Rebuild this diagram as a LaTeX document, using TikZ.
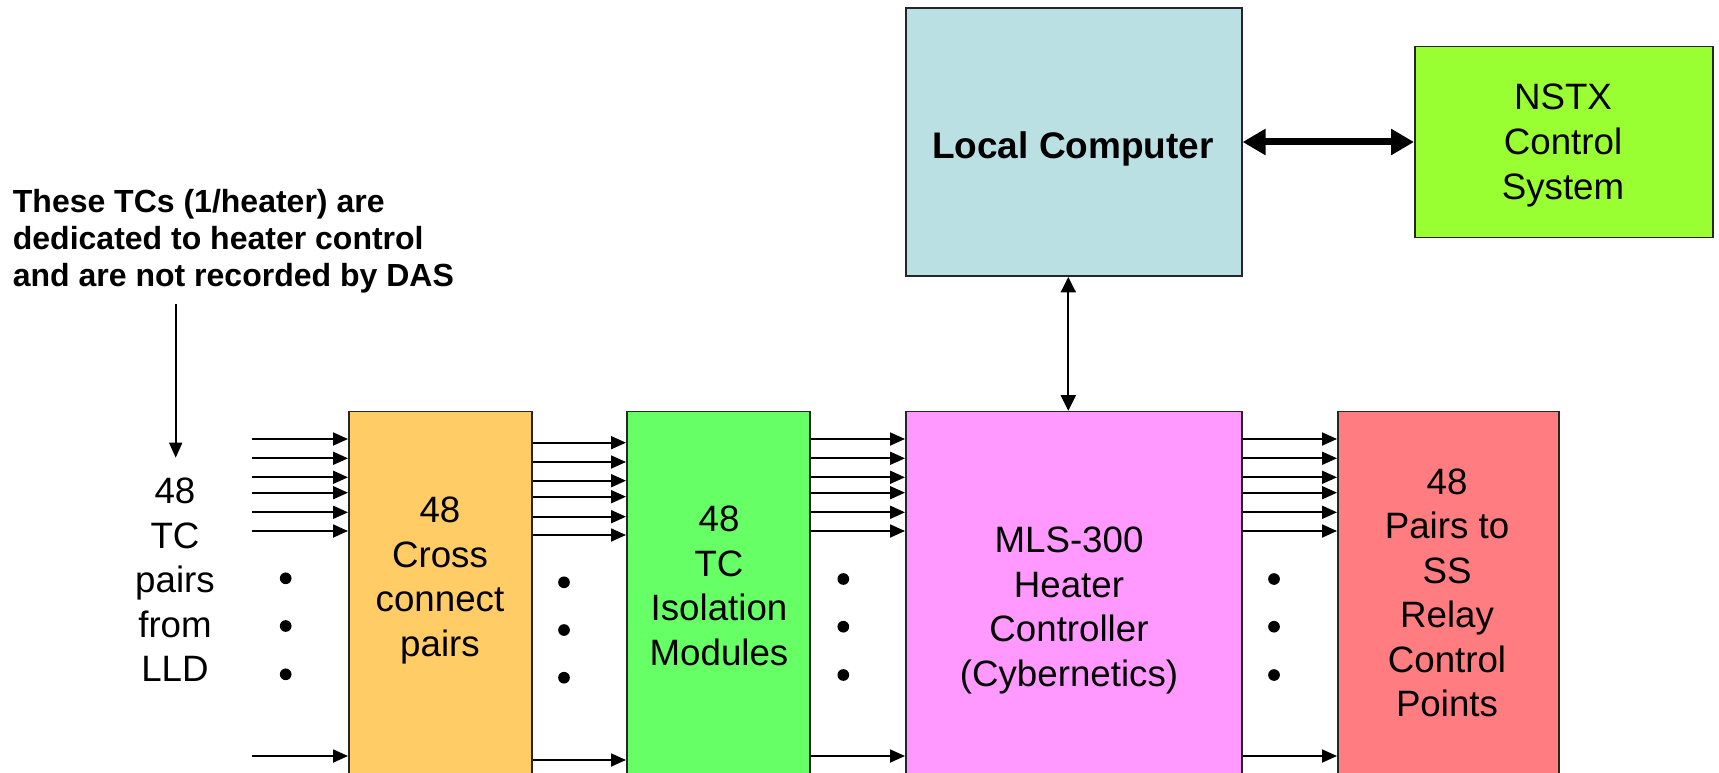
\documentclass[tikz,border=0pt]{standalone}
\usepackage{fontspec}
\setmainfont{Liberation Sans}
\usetikzlibrary{arrows.meta}
\definecolor{crossfill}{HTML}{FFCC66}
\definecolor{isofill}{HTML}{66FF66}
\definecolor{mlsfill}{HTML}{FF99FF}
\definecolor{relayfill}{HTML}{FF7C80}
\definecolor{localfill}{HTML}{BBE0E3}
\definecolor{nstxfill}{HTML}{99FF33}
\begin{document}
\begin{tikzpicture}[x=1pt,y=-1pt,
  block/.style={draw=black!85, line width=1.6pt, anchor=north west, inner sep=0pt},
  boxtext/.style={font=\fontsize{36.7}{44.5}\selectfont, align=center, anchor=base, inner sep=0pt},
  notetext/.style={font=\bfseries\fontsize{32}{37.3}\selectfont, align=left, anchor=base west, inner sep=0pt},
  sig/.style={line width=1.8pt, -{Triangle[length=15pt,width=13pt]}},
  link/.style={line width=2pt, {Triangle[length=15.5pt,width=15pt]}-{Triangle[length=15.5pt,width=15pt]}},
  biglink/.style={line width=7pt, {Triangle[length=23pt,width=25pt]}-{Triangle[length=23pt,width=25pt]}},
  dot/.style={circle, fill=black, inner sep=0pt, minimum size=11.7pt}]

\useasboundingbox (0,0) rectangle (1719,773);
\clip (0,0) rectangle (1719,773);

% main chain of blocks (they run past the lower edge)
\node[block, fill=crossfill, minimum width=183pt, minimum height=400pt] (cross) at (348,410.7) {};
\node[block, fill=isofill, minimum width=183.3pt, minimum height=400pt] (iso) at (626,410.7) {};
\node[block, fill=mlsfill, minimum width=336pt, minimum height=400pt] (mls) at (905,410.7) {};
\node[block, fill=relayfill, minimum width=221pt, minimum height=400pt] (relay) at (1337,410.7) {};

% supervisory level
\node[block, fill=localfill, minimum width=336pt, minimum height=268pt] (local) at (905,7.3) {};
\node[block, fill=nstxfill, minimum width=298pt, minimum height=191pt] (nstx) at (1414,45.7) {};

% block labels (multi-line nodes are placed by the baseline of their last line)
\node[boxtext] (tcin) at (175,681.5) {48\\TC\\pairs\\from\\LLD};
\node[boxtext] (crosstext) at (440,656) {48\\Cross\\connect\\pairs};
\node[boxtext] (isotext) at (719,665) {48\\TC\\Isolation\\Modules};
\node[boxtext] (mlstext) at (1069,686.2) {MLS-300\\Heater\\Controller\\(Cybernetics)};
\node[boxtext] (relaytext) at (1447,716.5) {48\\Pairs to\\SS\\Relay\\Control\\Points};
\node[boxtext] (nstxtext) at (1563,199) {NSTX\\Control\\System};
\node[boxtext, font=\bfseries\fontsize{37}{44}\selectfont] (localtext) at (1073,158.3) {Local Computer};

% note on the control thermocouples
\node[notetext] (note) at (12.7,286.8) {These TCs (1/heater) are\\dedicated to heater control\\and are not recorded by DAS};
\coordinate (notetail) at (175.7,304);
\coordinate (notetip) at (175.7,457.7);
\draw[sig] (notetail) -- (notetip);

% signal pairs between the blocks
\foreach \y [count=\i] in {439,458.3,477.3,492.7,512.3,531,756} {
  \coordinate (in\i) at (251.7,\y);
  \draw[sig] (in\i) -- (in\i -| cross.west);
  \draw[sig] (iso.east |- in\i) -- (mls.west |- in\i);
  \draw[sig] (mls.east |- in\i) -- (relay.west |- in\i);
}
\foreach \y [count=\i] in {442.7,462,480.7,496.7,516.7,535,760} {
  \coordinate (mid\i) at (560,\y);
  \draw[sig] (cross.east |- mid\i) -- (iso.west |- mid\i);
}

% ellipsis dots for the remaining pairs
\foreach \y [count=\i] in {578.3,626,674.3} {
  \node[dot] (dotin\i) at (285.7,\y) {};
  \node[dot] (dotiso\i) at (843.3,\y+0.7) {};
  \node[dot] (dotrel\i) at (1274,\y+0.7) {};
}
\foreach \y [count=\i] in {582.3,630,677.7} {
  \node[dot] (dotcross\i) at (564,\y) {};
}

% computer links
\draw[link] (local.south -| 1068.3,0) -- (mls.north -| 1068.3,0);
\draw[biglink] (local.east |- 0,142) -- (nstx.west |- 0,142);
\end{tikzpicture}
\end{document}
